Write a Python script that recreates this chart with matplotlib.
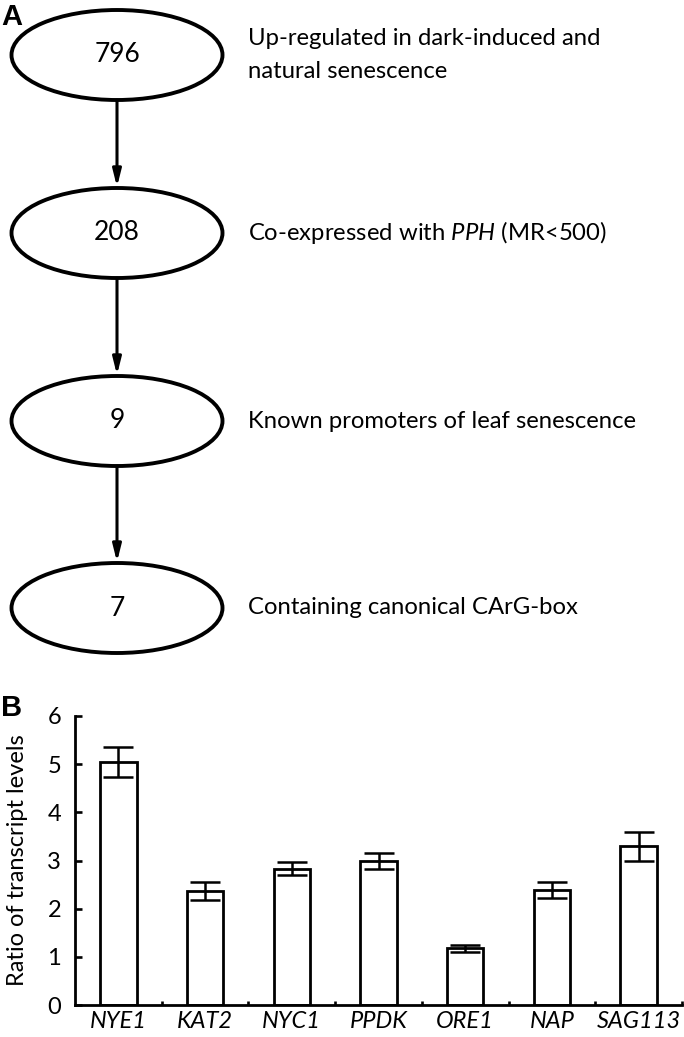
import matplotlib
matplotlib.use('Agg')
import numpy as np
import matplotlib.pyplot as plt
from matplotlib.patches import Ellipse

# Daten Teil A (Flussdiagramm)
counts = ['796', '208', '9', '7']
descriptions = ['Up-regulated in dark-induced and\nnatural senescence',
                'Co-expressed with $\\mathit{PPH}$ (MR<500)',
                'Known promoters of leaf senescence',
                'Containing canonical CArG-box']

# Daten Teil B (Balkendiagramm)
genes = ['NYE1', 'KAT2', 'NYC1', 'PPDK', 'ORE1', 'NAP', 'SAG113']
ratio = [5.04, 2.37, 2.83, 2.99, 1.18, 2.39, 3.30]
ratio_err = [0.31, 0.18, 0.14, 0.16, 0.07, 0.16, 0.30]

# Schrift
plt.rcParams['font.family'] = 'Lato'
plt.rcParams['mathtext.fontset'] = 'custom'
plt.rcParams['mathtext.rm'] = 'Lato'
plt.rcParams['mathtext.it'] = 'Lato:italic'

W, H = 684, 1037
fig = plt.figure(figsize=(W / 100, H / 100), dpi=100)

# Teil A: Achse in Pixelkoordinaten
ax0 = fig.add_axes([0, 0, 1, 1])
ax0.set_xlim(0, W)
ax0.set_ylim(H, 0)
ax0.axis('off')

cx = 117
ell_w, ell_h = 211, 90
ell_y = [55, 233, 421, 608]     # Mittelpunkte der Ellipsen [px]
for i, (c, d) in enumerate(zip(counts, descriptions)):
    cy = ell_y[i]
    ax0.add_patch(Ellipse((cx, cy), ell_w, ell_h, facecolor='white',
                          edgecolor='black', linewidth=2.8))
    ax0.text(cx, cy, c, ha='center', va='center', fontsize=19)
    ax0.text(248, cy, d, ha='left', va='center', fontsize=17.2, linespacing=1.75)
    if i < len(counts) - 1:
        ax0.annotate('', xy=(cx, ell_y[i + 1] - ell_h / 2 - 1), xytext=(cx, cy + ell_h / 2),
                     arrowprops=dict(arrowstyle='-|>,head_length=1.0,head_width=0.25',
                                     color='black', lw=2.2, shrinkA=0, shrinkB=0))

fig.text(1 / W, 1 - 25 / H, 'A', fontsize=21, fontweight='bold', family='Liberation Sans')
fig.text(1 / W, 1 - 716 / H, 'B', fontsize=21, fontweight='bold', family='Liberation Sans')

# Teil B: Balkendiagramm
ax = fig.add_axes([75 / W, 1 - 1005 / H, 607 / W, 289 / H])
x = np.arange(len(genes))
ax.bar(x, ratio, width=0.42, color='white', edgecolor='black', linewidth=2.0, zorder=2)
ax.errorbar(x, ratio, yerr=ratio_err, fmt='none', ecolor='black', elinewidth=1.8,
            capsize=11, capthick=1.8, zorder=3)

ax.set_xlim(-0.5, len(genes) - 0.5)
ax.set_ylim(0, 6)
ax.set_yticks(range(0, 7))
ax.set_xticks(x)
ax.set_xticklabels(genes, fontstyle='italic', fontsize=17)
ax.set_xticks(list(x[:-1] + 0.5) + [len(genes) - 0.5], minor=True)
ax.tick_params(axis='x', which='major', length=0, pad=4)
ax.tick_params(axis='x', which='minor', direction='in', length=3, width=1.9)
ax.tick_params(axis='y', direction='in', length=5, width=1.9, labelsize=17, pad=10)
ax.set_ylabel('Ratio of transcript levels', fontsize=17)
ax.yaxis.set_label_coords(-0.077, 0.5)

for s in ['top', 'right']:
    ax.spines[s].set_visible(False)
for s in ['left', 'bottom']:
    ax.spines[s].set_linewidth(2.0)

fig.savefig('out.png', dpi=100)
